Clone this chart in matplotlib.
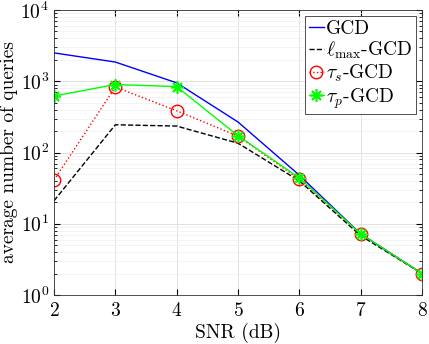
import numpy as np
import matplotlib.pyplot as plt

plt.rcParams['font.family'] = 'serif'
plt.rcParams['font.serif'] = ['cmr10']
plt.rcParams['mathtext.fontset'] = 'cm'
plt.rcParams['axes.formatter.use_mathtext'] = True
plt.rcParams['axes.unicode_minus'] = False

snr = [2, 3, 4, 5, 6, 7, 8]
gcd = [2500, 1860, 950, 268, 48, 7.2, 2.0]
lmax_gcd = [21, 245, 235, 135, 40, 6.8, 2.0]
taus_gcd = [41, 830, 385, 170, 42, 7.2, 2.0]
taup_gcd = [620, 900, 840, 172, 44, 7.2, 2.0]

fig = plt.figure(figsize=(4.29, 3.44), dpi=100)
ax = fig.add_axes([54/429, 1 - 295/344, 368/429, 285/344])

ax.plot(snr, gcd, color='b', lw=1.0, label='GCD')
ax.plot(snr, lmax_gcd, color='k', ls='--', lw=1.0, label=r'$\ell_{\max}$-GCD')
ax.plot(snr, taus_gcd, color='r', ls=':', lw=1.0, marker='o', markersize=9,
        markerfacecolor='none', markeredgewidth=1.0, label=r'$\tau_s$-GCD')
# matlab style asterisk
ax.plot(snr, taup_gcd, color='#00ff00', ls='-', lw=1.0, marker=(8, 2, 0), markersize=9,
        markeredgewidth=1.2, label=r'$\tau_p$-GCD')

ax.set_yscale('log')
ax.set_xlim(2, 8)
ax.set_ylim(1, 1e4)
ax.set_xticks(snr)
ax.set_yticks([1, 10, 100, 1000, 10000])
ax.tick_params(which='both', direction='in', top=True, right=True, labelsize=14)
ax.tick_params(axis='x', pad=5)
ax.tick_params(which='major', length=4)
ax.tick_params(which='minor', length=2)
ax.grid(True, which='major', color='#dddddd', lw=0.6)
ax.grid(True, which='minor', axis='y', color='#eeeeee', lw=0.5)
for s in ax.spines.values():
    s.set_color('#333333')
    s.set_linewidth(0.6)

ax.set_xlabel('SNR (dB)', fontsize=14, labelpad=2)
ax.set_ylabel('average number of queries', fontsize=14, labelpad=2)

leg = ax.legend(loc='upper right', fontsize=14, handlelength=0.8, handletextpad=0.1,
                labelspacing=0.1, borderpad=0.2, borderaxespad=0.3, fancybox=False,
                framealpha=1, edgecolor='#333333')
leg.get_frame().set_linewidth(0.6)

plt.savefig('out.png', dpi=100)
